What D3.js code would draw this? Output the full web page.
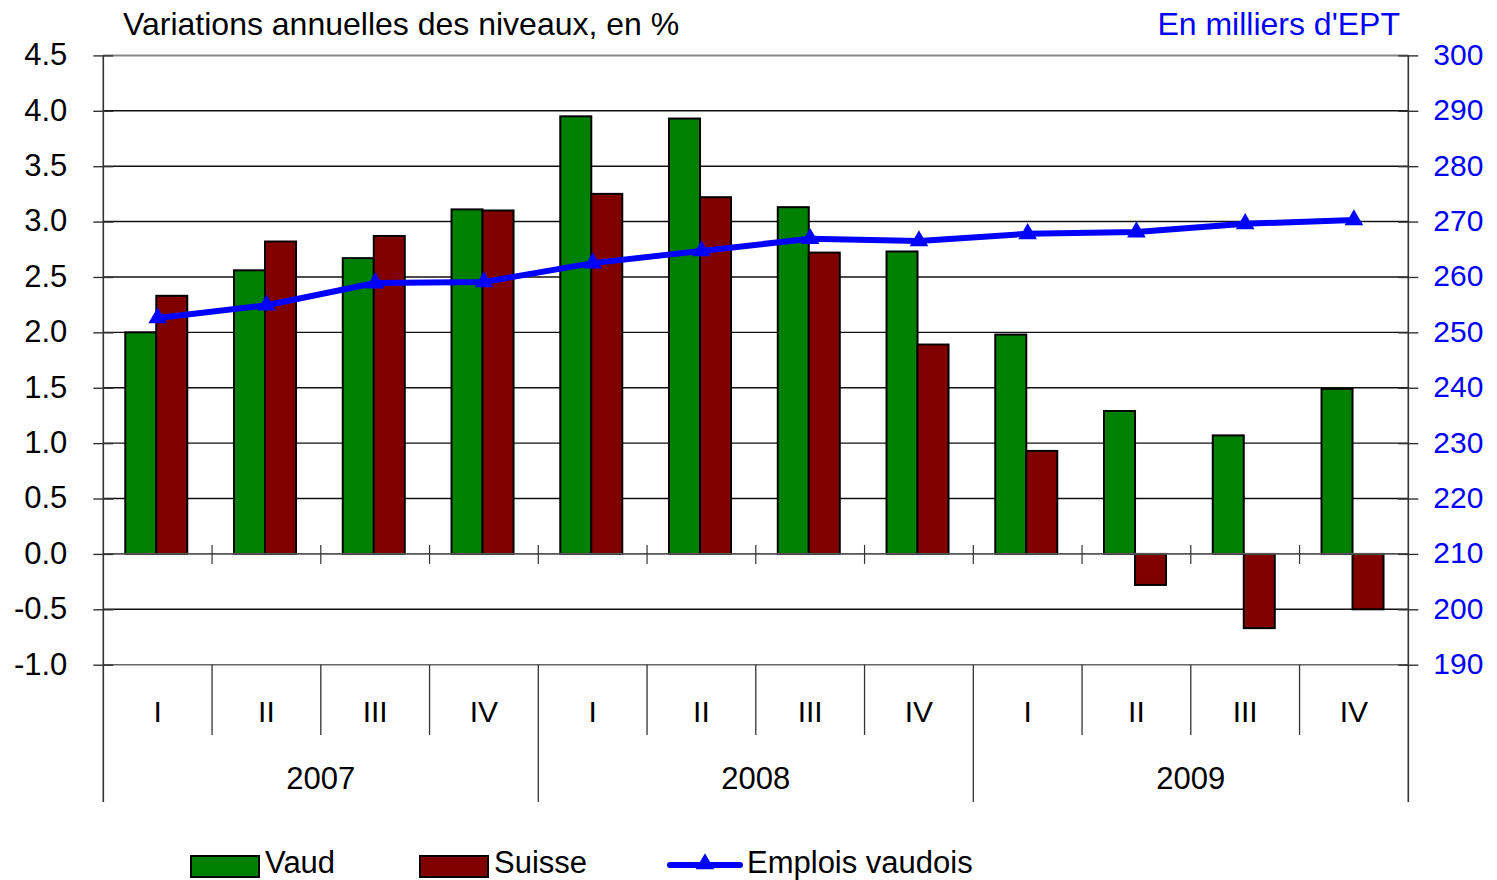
<!DOCTYPE html>
<html>
<head>
<meta charset="utf-8">
<script src="https://cdn.jsdelivr.net/npm/d3@7"></script>
<style>
  body { margin: 0; background: #fff; }
  svg { display: block; font-family: "Liberation Sans", Arial, sans-serif; }
</style>
</head>
<body>
<svg></svg>
<script>
const width = 1497;
const height = 880;

// Data
const years = ["2007", "2008", "2009"];
const quarters = ["I", "II", "III", "IV"];
const vaud = [2.00, 2.56, 2.67, 3.11, 3.95, 3.93, 3.13, 2.73, 1.98, 1.29, 1.07, 1.49];
const suisse = [2.33, 2.82, 2.87, 3.10, 3.25, 3.22, 2.72, 1.89, 0.93, -0.28, -0.67, -0.50];
const emplois = [252.6, 254.9, 258.9, 259.1, 262.5, 264.7, 266.9, 266.5, 267.8, 268.1, 269.6, 270.3];
const leftTicks = [-1.0, -0.5, 0.0, 0.5, 1.0, 1.5, 2.0, 2.5, 3.0, 3.5, 4.0, 4.5];
const rightTicks = [190, 200, 210, 220, 230, 240, 250, 260, 270, 280, 290, 300];

const periods = [];
years.forEach(y => quarters.forEach(q => periods.push({ year: y, q })));

const plot = { left: 103.3, right: 1408.3, top: 55.4, bottom: 664.7 };

const svg = d3.select("svg")
    .attr("width", width)
    .attr("height", height);

// Scales
const x = d3.scaleBand()
    .domain(d3.range(periods.length))
    .range([plot.left, plot.right])
    .padding(0);

const x1 = d3.scaleBand()
    .domain(["vaud", "suisse"])
    .range([0, x.bandwidth()])
    .paddingInner(0)
    .paddingOuter(0.754)
    .align(0.47);

const yL = d3.scaleLinear().domain([-1, 4.5]).range([plot.bottom, plot.top]);
const yR = d3.scaleLinear().domain([190, 300]).range([plot.bottom, plot.top]);

// Gridlines
svg.append("g")
    .selectAll("line")
    .data(leftTicks.filter(t => t !== 4.5 && t !== 0 && t !== -1))
    .enter().append("line")
    .attr("x1", plot.left).attr("x2", plot.right)
    .attr("y1", d => yL(d)).attr("y2", d => yL(d))
    .attr("stroke", "#111")
    .attr("stroke-width", 1.4);

// top border and bottom line
svg.append("line")
    .attr("x1", plot.left).attr("x2", plot.right)
    .attr("y1", yL(4.5)).attr("y2", yL(4.5))
    .attr("stroke", "#888").attr("stroke-width", 2);
svg.append("line")
    .attr("x1", plot.left).attr("x2", plot.right)
    .attr("y1", yL(-1)).attr("y2", yL(-1))
    .attr("stroke", "#666").attr("stroke-width", 1.6);

// Bars
const bars = svg.append("g");
bars.selectAll(".vaud")
    .data(vaud)
    .enter().append("rect")
    .attr("x", (d, i) => x(i) + x1("vaud"))
    .attr("width", x1.bandwidth())
    .attr("y", d => yL(Math.max(0, d)))
    .attr("height", d => Math.abs(yL(d) - yL(0)))
    .attr("fill", "#008000")
    .attr("stroke", "#000")
    .attr("stroke-width", 2);

bars.selectAll(".suisse")
    .data(suisse)
    .enter().append("rect")
    .attr("x", (d, i) => x(i) + x1("suisse"))
    .attr("width", x1.bandwidth())
    .attr("y", d => yL(Math.max(0, d)))
    .attr("height", d => Math.abs(yL(d) - yL(0)))
    .attr("fill", "#800000")
    .attr("stroke", "#000")
    .attr("stroke-width", 2);

// Zero line (category axis) with small ticks
svg.append("line")
    .attr("x1", plot.left).attr("x2", plot.right)
    .attr("y1", yL(0)).attr("y2", yL(0))
    .attr("stroke", "#555").attr("stroke-width", 1.6);

svg.append("g")
    .selectAll("line")
    .data(d3.range(1, periods.length))
    .enter().append("line")
    .attr("x1", d => plot.left + d * x.step()).attr("x2", d => plot.left + d * x.step())
    .attr("y1", yL(0) - 9).attr("y2", yL(0) + 10)
    .attr("stroke", "#333").attr("stroke-width", 1.2);

// Left and right axes
const fmt = d => d3.format(".1f")(d).replace("\u2212", "-");
const leftAxis = svg.append("g")
    .attr("transform", `translate(${plot.left},0)`)
    .call(d3.axisLeft(yL).tickValues(leftTicks).tickFormat(fmt).tickSize(10).tickPadding(26));
leftAxis.select(".domain").remove();
leftAxis.selectAll(".tick line").attr("x2", 10).attr("x1", -10).attr("stroke", "#333").attr("stroke-width", 1.4);
leftAxis.selectAll("text").attr("font-size", 31).attr("fill", "#000")
    .attr("font-family", "'Liberation Sans', Arial, sans-serif")
    .attr("dy", "0.3em");

const rightAxis = svg.append("g")
    .attr("transform", `translate(${plot.right},0)`)
    .call(d3.axisRight(yR).tickValues(rightTicks).tickSize(10).tickPadding(15));
rightAxis.select(".domain").remove();
rightAxis.selectAll(".tick line").attr("x1", -10).attr("x2", 10).attr("stroke", "#333").attr("stroke-width", 1.4);
rightAxis.selectAll("text").attr("font-size", 30).attr("fill", "#0000ff")
    .attr("font-family", "'Liberation Sans', Arial, sans-serif")
    .attr("dy", "0.3em");

// vertical axis lines, extending into the category area
svg.append("line")
    .attr("x1", plot.left).attr("x2", plot.left)
    .attr("y1", plot.top).attr("y2", 802)
    .attr("stroke", "#333").attr("stroke-width", 1.6);
svg.append("line")
    .attr("x1", plot.right).attr("x2", plot.right)
    .attr("y1", plot.top).attr("y2", 802)
    .attr("stroke", "#333").attr("stroke-width", 1.6);

// Category separators below the plot
svg.append("g")
    .selectAll("line")
    .data(d3.range(1, periods.length))
    .enter().append("line")
    .attr("x1", d => plot.left + d * x.step()).attr("x2", d => plot.left + d * x.step())
    .attr("y1", plot.bottom)
    .attr("y2", d => d % 4 === 0 ? 802 : 735)
    .attr("stroke", "#333").attr("stroke-width", 1.3);

// Quarter labels
svg.append("g")
    .selectAll("text")
    .data(periods)
    .enter().append("text")
    .attr("x", (d, i) => x(i) + x.bandwidth() / 2)
    .attr("y", 722)
    .attr("text-anchor", "middle")
    .attr("font-size", 30)
    .text(d => d.q);

// Year labels
svg.append("g")
    .selectAll("text")
    .data(years)
    .enter().append("text")
    .attr("x", (d, i) => plot.left + (i * 4 + 2) * x.step())
    .attr("y", 789)
    .attr("text-anchor", "middle")
    .attr("font-size", 31)
    .text(d => d);

// Employment line
const lineGen = d3.line()
    .x((d, i) => x(i) + x.bandwidth() / 2)
    .y(d => yR(d));

svg.append("path")
    .datum(emplois)
    .attr("d", lineGen)
    .attr("fill", "none")
    .attr("stroke", "#0000ff")
    .attr("stroke-width", 6)
    .attr("stroke-linejoin", "round");

const tri = d3.symbol().type(d3.symbolTriangle).size(150);
svg.append("g")
    .selectAll("path")
    .data(emplois)
    .enter().append("path")
    .attr("d", tri)
    .attr("transform", (d, i) => `translate(${x(i) + x.bandwidth() / 2},${yR(d)})`)
    .attr("fill", "#0000ff");

// Titles
svg.append("text")
    .attr("x", 123).attr("y", 35)
    .attr("font-size", 32)
    .text("Variations annuelles des niveaux, en %");

svg.append("text")
    .attr("x", 1400).attr("y", 35)
    .attr("text-anchor", "end")
    .attr("font-size", 32)
    .attr("fill", "#0000ff")
    .text("En milliers d'EPT");

// Legend
const legend = svg.append("g");
const legendItems = [
    { name: "Vaud", color: "#008000", x: 191 },
    { name: "Suisse", color: "#800000", x: 420 }
];
legend.selectAll("rect")
    .data(legendItems)
    .enter().append("rect")
    .attr("x", d => d.x).attr("y", 856)
    .attr("width", 68).attr("height", 21)
    .attr("fill", d => d.color)
    .attr("stroke", "#000").attr("stroke-width", 2);
legend.selectAll("text.bar")
    .data(legendItems)
    .enter().append("text")
    .attr("class", "bar")
    .attr("x", d => d.x + 74).attr("y", 873)
    .attr("font-size", 31)
    .text(d => d.name);

legend.append("line")
    .attr("x1", 670).attr("x2", 740)
    .attr("y1", 865).attr("y2", 865)
    .attr("stroke", "#0000ff").attr("stroke-width", 6)
    .attr("stroke-linecap", "round");
legend.append("path")
    .attr("d", tri)
    .attr("transform", "translate(705,864)")
    .attr("fill", "#0000ff");
legend.append("text")
    .attr("x", 747).attr("y", 873)
    .attr("font-size", 31)
    .text("Emplois vaudois");
</script>
</body>
</html>
